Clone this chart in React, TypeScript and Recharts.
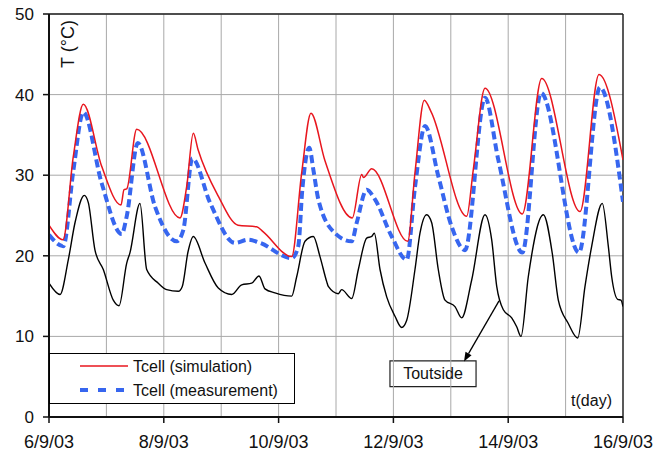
import React from 'react';
import { LineChart, Line, XAxis, YAxis, CartesianGrid, ReferenceLine, ReferenceArea, Legend } from 'recharts';

// x tick days (0 = 6/9/03) and labels
const DAY_TICKS = [0, 2, 4, 6, 8, 10];
const DAY_LABELS = ['6/9/03', '8/9/03', '10/9/03', '12/9/03', '14/9/03', '16/9/03'];
const GRID_DAYS = [1, 2, 3, 4, 5, 6, 7, 8, 9];
const TEMP_TICKS = [0, 10, 20, 30, 40, 50];

// [day, °C]
const SIMULATION: [number, number][] = [
  [0.0, 23.8], [0.244, 22.0], [0.423, 32.3], [0.598, 38.8], [0.918, 31.1], [1.254, 26.3],
  [1.307, 28.2], [1.354, 28.3], [1.528, 35.7], [2.282, 24.7], [2.399, 28.6], [2.514, 35.2],
  [2.596, 33.2], [2.949, 27.4], [3.293, 23.8], [3.618, 23.6], [3.728, 23.0], [4.228, 19.9],
  [4.402, 30.3], [4.564, 37.7], [4.808, 31.8], [5.284, 24.7], [5.448, 30.1], [5.479, 29.7],
  [5.622, 30.8], [6.249, 21.8], [6.376, 30.3], [6.538, 39.3], [6.655, 37.9], [7.277, 24.9],
  [7.392, 30.7], [7.596, 40.8], [8.246, 25.2], [8.584, 42.0], [9.251, 25.5], [9.582, 42.5],
  [10.0, 31.9],
];

const MEASUREMENT: [number, number][] = [
  [0.0, 22.6], [0.249, 21.2], [0.423, 30.5], [0.598, 37.8], [0.918, 29.0], [1.267, 22.7],
  [1.354, 24.9], [1.547, 34.0], [1.847, 26.1], [2.225, 21.8], [2.34, 23.2], [2.497, 32.1],
  [2.805, 26.6], [3.24, 21.6], [3.467, 22.0], [3.676, 21.6], [4.228, 19.7], [4.343, 21.2],
  [4.413, 28.2], [4.535, 33.4], [4.605, 30.7], [4.692, 27.0], [4.983, 22.8], [5.274, 21.8],
  [5.361, 24.1], [5.535, 28.2], [5.679, 27.0], [5.97, 22.4], [6.232, 19.5], [6.376, 28.5],
  [6.551, 36.1], [6.782, 29.9], [7.016, 23.6], [7.247, 20.7], [7.596, 39.6], [7.828, 31.9],
  [8.246, 20.4], [8.571, 40.2], [9.233, 20.4], [9.599, 40.9], [10.0, 26.7],
];

const OUTSIDE: [number, number][] = [
  [0.0, 16.6], [0.192, 15.2], [0.336, 19.5], [0.453, 24.1], [0.615, 27.5], [0.685, 26.6],
  [0.801, 20.7], [0.946, 18.3], [1.12, 14.5], [1.22, 13.8], [1.354, 19.1], [1.411, 20.4],
  [1.585, 26.5], [1.702, 18.3], [1.904, 16.6], [2.05, 15.8], [2.253, 15.6], [2.322, 16.2],
  [2.422, 20.5], [2.514, 22.4], [2.718, 19.1], [2.949, 16.0], [3.183, 15.2], [3.357, 16.4],
  [3.531, 16.6], [3.659, 17.5], [3.763, 15.9], [3.937, 15.4], [4.228, 15.0], [4.315, 17.4],
  [4.46, 21.8], [4.605, 22.4], [4.721, 19.9], [4.838, 16.8], [4.866, 16.2], [5.04, 15.3],
  [5.099, 15.8], [5.274, 14.7], [5.389, 18.3], [5.535, 22.2], [5.622, 22.4], [5.667, 22.8],
  [5.767, 18.3], [5.883, 14.9], [6.028, 12.5], [6.145, 11.1], [6.232, 12.0], [6.376, 18.3],
  [6.463, 22.8], [6.58, 25.1], [6.667, 24.1], [6.782, 18.3], [6.899, 14.5], [7.073, 13.7],
  [7.19, 12.3], [7.364, 17.0], [7.596, 25.1], [7.712, 22.0], [7.8, 16.2], [7.915, 13.3],
  [8.061, 12.3], [8.148, 11.2], [8.223, 10.0], [8.35, 17.4], [8.612, 25.1], [8.768, 20.3],
  [8.873, 14.5], [9.047, 11.6], [9.211, 9.8], [9.338, 16.2], [9.455, 21.2], [9.639, 26.5],
  [9.744, 21.2], [9.803, 17.4], [9.908, 14.6], [9.965, 14.5], [10.0, 13.7],
];

const toPoints = (arr: [number, number][]) => arr.map(([d, t]) => ({ d, t }));
const simData = toPoints(SIMULATION);
const measData = toPoints(MEASUREMENT);
const outData = toPoints(OUTSIDE);

const FONT = '"Liberation Sans", Arial, sans-serif';
const RED = '#e8161e';
const BLUE = '#3766ef';

const LEGEND_ORDER = ['Tcell (simulation)', 'Tcell (measurement)'];

const renderLegend = (props: any) => {
  const payload = (props.payload || []) as any[];
  const items = LEGEND_ORDER.map((n) => payload.find((p) => p.value === n)).filter(Boolean);
  return (
    <svg width={246} height={51} style={{ display: 'block' }}>
      <rect x={0.5} y={0.5} width={245} height={50} fill="#fff" stroke="#000" strokeWidth={1} />
      {items.map((it: any, i: number) => {
        const y = 13 + i * 24;
        const dashed = it.value === 'Tcell (measurement)';
        return (
          <g key={it.value}>
            <line
              x1={31}
              x2={dashed ? 80 : 79}
              y1={y}
              y2={y}
              stroke={it.color}
              strokeWidth={dashed ? 4 : 1.5}
              strokeDasharray={dashed ? '8 10' : undefined}
            />
            <text x={84} y={y + 6} fontSize={16} fontFamily={FONT} fill="#111">
              {it.value}
            </text>
          </g>
        );
      })}
    </svg>
  );
};

const arrowShape = (p: any) => {
  const { x1, y1, x2, y2 } = p;
  const ang = Math.atan2(y2 - y1, x2 - x1);
  const L = 9;
  const W = 3.5;
  const bx = x2 - L * Math.cos(ang);
  const by = y2 - L * Math.sin(ang);
  const px = -Math.sin(ang) * W;
  const py = Math.cos(ang) * W;
  return (
    <g>
      <line x1={x1} y1={y1} x2={bx} y2={by} stroke="#000" strokeWidth={1.3} />
      <polygon points={`${x2},${y2} ${bx + px},${by + py} ${bx - px},${by - py}`} fill="#000" />
    </g>
  );
};

const yTitle = (p: any) => {
  const vb = p.viewBox || {};
  const x = vb.x + 25;
  const y = vb.y + 30;
  return (
    <text x={x} y={y} transform={`rotate(-90 ${x} ${y})`} textAnchor="middle" fontSize={18} fontFamily={FONT} fill="#111">
      T (°C)
    </text>
  );
};

const xTitle = (p: any) => {
  const vb = p.viewBox || {};
  return (
    <text x={vb.x + vb.width - 11} y={vb.y - 11} textAnchor="end" fontSize={16} fontFamily={FONT} fill="#111">
      t(day)
    </text>
  );
};

export default function App() {
  return (
    <div style={{ position: 'absolute', left: 0, top: 0, background: '#fff' }}>
      <LineChart width={672} height={454} margin={{ top: 14, right: 49, bottom: 0, left: 0 }}>
        <CartesianGrid vertical={false} stroke="#a8a8a8" strokeWidth={1} />
        {GRID_DAYS.map((d) => (
          <ReferenceLine key={d} x={d} stroke="#a8a8a8" strokeWidth={1} />
        ))}
        <XAxis
          dataKey="d"
          type="number"
          domain={[0, 10]}
          ticks={DAY_TICKS}
          tickFormatter={(v: number) => DAY_LABELS[DAY_TICKS.indexOf(v)] ?? ''}
          height={37}
          tickSize={6}
          tickMargin={12}
          axisLine={{ stroke: '#111', strokeWidth: 2 }}
          tickLine={{ stroke: '#111', strokeWidth: 1.5 }}
          tick={{ fontSize: 18, fontFamily: FONT, fill: '#111' }}
          allowDataOverflow
        />
        <YAxis
          type="number"
          domain={[0, 50]}
          ticks={TEMP_TICKS}
          width={49}
          tickSize={6}
          tickMargin={9}
          axisLine={{ stroke: '#111', strokeWidth: 2 }}
          tickLine={{ stroke: '#111', strokeWidth: 1.5 }}
          tick={{ fontSize: 17, fontFamily: FONT, fill: '#111' }}
          allowDataOverflow
        />
        <ReferenceLine y={50} stroke="#222" strokeWidth={1.5} />
        <ReferenceLine x={10} stroke="#222" strokeWidth={1.5} />
        <ReferenceLine x={0} strokeOpacity={0} label={{ content: yTitle }} />
        <ReferenceLine y={0} strokeOpacity={0} label={{ content: xTitle }} />
        <Line
          data={outData}
          dataKey="t"
          name="Toutside"
          type="monotone"
          stroke="#000"
          strokeWidth={1.4}
          dot={false}
          legendType="none"
          isAnimationActive={false}
        />
        <Line
          data={measData}
          dataKey="t"
          name="Tcell (measurement)"
          type="monotone"
          stroke={BLUE}
          strokeWidth={4}
          strokeDasharray="8 4"
          dot={false}
          isAnimationActive={false}
        />
        <Line
          data={simData}
          dataKey="t"
          name="Tcell (simulation)"
          type="monotone"
          stroke={RED}
          strokeWidth={1.5}
          dot={false}
          isAnimationActive={false}
        />
        <ReferenceArea
          x1={5.94}
          x2={7.44}
          y1={3.76}
          y2={6.96}
          fill="#fff"
          fillOpacity={1}
          stroke="#222"
          strokeWidth={1.2}
          label={{ value: 'Toutside', fontSize: 16, fontFamily: FONT, fill: '#111', position: 'center' }}
        />
        <ReferenceLine
          segment={[{ x: 7.84, y: 14.4 }, { x: 7.23, y: 6.9 }]}
          shape={arrowShape}
        />
        <Legend
          layout="vertical"
          align="center"
          verticalAlign="middle"
          content={renderLegend}
          wrapperStyle={{ position: 'absolute', left: 49, top: 353, width: 246, height: 51 }}
        />
      </LineChart>
    </div>
  );
}
